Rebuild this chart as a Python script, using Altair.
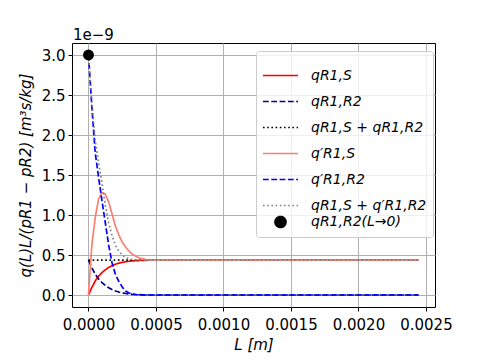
import altair as alt
import pandas as pd

# sample positions L [m]
L = [0.0, 0.000025, 0.00005, 0.000075, 0.0001, 0.000125, 0.00015, 0.000175,
     0.0002, 0.000225, 0.00025, 0.000275, 0.0003, 0.000325, 0.00035, 0.000375,
     0.0004, 0.000425, 0.00045, 0.000475, 0.0005, 0.000525, 0.00055, 0.000575,
     0.0006, 0.002445]

# values in units of 1e-9
q_s = [0.0, 0.095, 0.175, 0.235, 0.28, 0.315, 0.345, 0.367, 0.385, 0.398, 0.408,
       0.416, 0.422, 0.426, 0.429, 0.431, 0.433, 0.434, 0.435, 0.435, 0.435,
       0.435, 0.435, 0.435, 0.435, 0.435]
q_r2 = [0.435, 0.34, 0.26, 0.20, 0.155, 0.12, 0.09, 0.068, 0.05, 0.037, 0.027,
        0.019, 0.013, 0.009, 0.006, 0.004, 0.002, 0.001, 0.0, 0.0, 0.0, 0.0,
        0.0, 0.0, 0.0, 0.0]
q_sum = [0.435, 0.435, 0.435, 0.435, 0.435, 0.435, 0.435, 0.435, 0.435, 0.435,
         0.435, 0.435, 0.435, 0.435, 0.435, 0.435, 0.435, 0.435, 0.435, 0.435,
         0.435, 0.435, 0.435, 0.435, 0.435, 0.435]
qp_s = [0.0, 0.62, 0.97, 1.20, 1.28, 1.26, 1.16, 1.01, 0.86, 0.75, 0.66, 0.60,
        0.55, 0.51, 0.485, 0.465, 0.452, 0.443, 0.438, 0.436, 0.435, 0.435,
        0.435, 0.435, 0.435, 0.435]
qp_r2 = [3.0, 2.35, 1.78, 1.47, 1.18, 0.90, 0.62, 0.40, 0.255, 0.17, 0.10, 0.05,
         0.025, 0.012, 0.006, 0.003, 0.001, 0.0, 0.0, 0.0, 0.0, 0.0, 0.0, 0.0,
         0.0, 0.0]
qp_sum = [3.0, 2.42, 1.93, 1.66, 1.40, 1.12, 0.90, 0.74, 0.62, 0.55, 0.50, 0.47,
          0.452, 0.443, 0.439, 0.437, 0.436, 0.435, 0.435, 0.435, 0.435, 0.435,
          0.435, 0.435, 0.435, 0.435]

point_L = [0.0]
point_q = [3.0]

names = ["qR1,S", "qR1,R2", "qR1,S + qR1,R2", "q′R1,S", "q′R1,R2",
         "qR1,S + q′R1,R2", "qR1,R2(L→0)"]
colors = ["#ff0000", "#00008b", "#000000", "#fa8072", "#0000ff", "#808080", "#000000"]
dashes = [[1, 0], [5.8, 2.5], [1.6, 2.6], [1, 0], [5.8, 2.5], [1.6, 2.6], [1, 0]]
shapes = ["stroke"] * 6 + ["circle"]
sizes = [1225] * 6 + [120]

series = [q_s, q_r2, q_sum, qp_s, qp_r2, qp_sum]
rows = []
for name, vals in zip(names[:6], series):
    for x, y in zip(L, vals):
        rows.append({"L": x, "q": y, "series": name})
df = pd.DataFrame(rows)
pdf = pd.DataFrame({"L": point_L, "q": point_q, "series": [names[6]]})

FONT = "DejaVu Sans"
xscale = alt.Scale(domain=[-0.000122, 0.002567], nice=False, zero=False)
yscale = alt.Scale(domain=[-0.15, 3.15], nice=False, zero=False)

xaxis = alt.Axis(values=[0, 0.0005, 0.001, 0.0015, 0.002, 0.0025], format=".4f",
                 title="L [m]", titleFontStyle="italic", labelPadding=6,
                 titlePadding=5)
yaxis = alt.Axis(values=[0, 0.5, 1.0, 1.5, 2.0, 2.5, 3.0], format=".1f",
                 title="q(L)L/(pR1 − pR2) [m³s/kg]", titleFontStyle="italic",
                 labelPadding=3, titlePadding=8)

legend = alt.Legend(
    orient="none", legendX=184, legendY=8, title=None,
    symbolStrokeWidth=1.7,
    labelFont=FONT, labelFontSize=14, labelFontStyle="italic", labelLimit=300,
    labelOffset=12, rowPadding=0, padding=6,
    fillColor="rgba(255,255,255,0.8)", strokeColor="#cccccc", cornerRadius=3,
)

color = alt.Color("series:N", scale=alt.Scale(domain=names, range=colors),
                  legend=legend, title=None)
dash = alt.StrokeDash("series:N", scale=alt.Scale(domain=names, range=dashes),
                      legend=legend, title=None)
shape = alt.Shape("series:N", scale=alt.Scale(domain=names, range=shapes),
                  legend=legend, title=None)
size = alt.Size("series:N",
                scale=alt.Scale(type="ordinal", domain=names, range=sizes),
                legend=legend, title=None)

layers = []
for name in names[:6]:
    layers.append(
        alt.Chart(df).transform_filter(alt.datum.series == name)
        .mark_line(strokeWidth=1.7, clip=True)
        .encode(x=alt.X("L:Q", scale=xscale, axis=xaxis),
                y=alt.Y("q:Q", scale=yscale, axis=yaxis),
                color=color, strokeDash=dash)
    )

pts = alt.Chart(pdf).mark_point(filled=True, opacity=1).encode(
    x=alt.X("L:Q", scale=xscale, axis=xaxis),
    y=alt.Y("q:Q", scale=yscale, axis=yaxis),
    color=color, strokeDash=dash, shape=shape, size=size,
)

chart = alt.layer(*layers, pts).properties(
    width=363, height=264, background="white",
    title=alt.TitleParams("1e−9", anchor="start", frame="group", dx=1, dy=17,
                          offset=2, baseline="bottom",
                          fontSize=15, fontWeight="normal", font=FONT),
    autosize=alt.AutoSizeParams(type="none"),
    padding={"left": 64, "top": 35, "right": 41, "bottom": 48},
).configure_view(stroke="black", strokeWidth=1).configure_axis(
    labelFont=FONT, labelFontSize=15, labelColor="black",
    titleFont=FONT, titleFontSize=15, titleFontWeight="normal", titleColor="black",
    grid=True, gridColor="#b0b0b0", gridWidth=1,
    domain=False, tickColor="black", tickSize=4, tickWidth=1,
)

chart.save("out.html", embed_options={"renderer": "svg", "actions": False})
